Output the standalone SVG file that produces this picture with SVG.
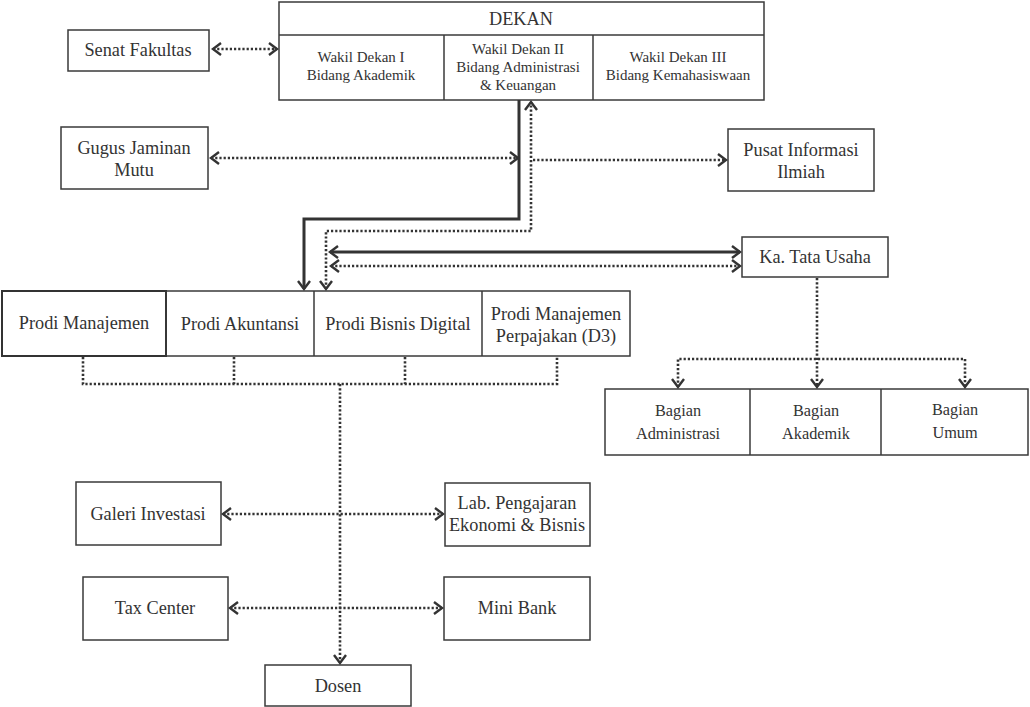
<svg xmlns="http://www.w3.org/2000/svg" width="1030" height="707" viewBox="0 0 1030 707">
<style>
.box{fill:#fff;stroke:#3a3a3a;stroke-width:1.5}
.t{font-family:"Liberation Serif","Times New Roman",serif;font-size:18.3px;fill:#333;text-anchor:middle}
.s{font-size:15px}
.b{font-size:16.3px}
.solid{fill:none;stroke:#333;stroke-width:3}
.dot{fill:none;stroke:#333;stroke-width:2.6;stroke-dasharray:2.2 2}
.ah{fill:none;stroke:#333;stroke-width:2.4;stroke-dasharray:none}
</style>
<defs>
<marker id="a" markerUnits="userSpaceOnUse" markerWidth="14" markerHeight="16" refX="10" refY="7" orient="auto-start-reverse" viewBox="0 0 14 16">
<path class="ah" d="M2,1 L10,7 L2,13"/>
</marker>
</defs>
<rect width="1030" height="707" fill="#fff"/>

<g id="dekan">
<rect class="box" x="279" y="2" width="485" height="98"/>
<line class="box" x1="279" y1="35" x2="764" y2="35"/>
<line class="box" x1="444" y1="35" x2="444" y2="100"/>
<line class="box" x1="593" y1="35" x2="593" y2="100"/>
<text class="t" x="521" y="25">DEKAN</text>
<text class="t s" x="361" y="62">Wakil Dekan I</text>
<text class="t s" x="361" y="80">Bidang Akademik</text>
<text class="t s" x="518" y="54">Wakil Dekan II</text>
<text class="t s" x="518" y="72">Bidang Administrasi</text>
<text class="t s" x="518" y="90">&amp; Keuangan</text>
<text class="t s" x="678" y="62">Wakil Dekan III</text>
<text class="t s" x="678" y="80">Bidang Kemahasiswaan</text>
</g>

<g id="senat"><rect class="box" x="68" y="30" width="141" height="41"/><text class="t" x="138" y="56">Senat Fakultas</text></g>
<g id="gugus"><rect class="box" x="61" y="127" width="147" height="62"/><text class="t" x="134" y="154">Gugus Jaminan</text><text class="t" x="134" y="176">Mutu</text></g>
<g id="pusat"><rect class="box" x="728" y="129" width="146" height="62"/><text class="t" x="801" y="156">Pusat Informasi</text><text class="t" x="801" y="178">Ilmiah</text></g>
<g id="katu"><rect class="box" x="742" y="237" width="146" height="40"/><text class="t" x="815" y="263">Ka. Tata Usaha</text></g>

<g id="prodi">
<rect class="box" x="2" y="291" width="628" height="65"/>
<rect x="2" y="291" width="164" height="65" fill="none" stroke="#333" stroke-width="2"/>
<line class="box" x1="166" y1="291" x2="166" y2="356"/>
<line class="box" x1="314" y1="291" x2="314" y2="356"/>
<line class="box" x1="482" y1="291" x2="482" y2="356"/>
<text class="t" x="84" y="329">Prodi Manajemen</text>
<text class="t" x="240" y="330">Prodi Akuntansi</text>
<text class="t" x="398" y="330">Prodi Bisnis Digital</text>
<text class="t" x="556" y="320">Prodi Manajemen</text>
<text class="t" x="556" y="342">Perpajakan (D3)</text>
</g>

<g id="bagian">
<rect class="box" x="605" y="389" width="423" height="66" stroke-width="2"/>
<line class="box" x1="750" y1="389" x2="750" y2="455"/>
<line class="box" x1="881" y1="389" x2="881" y2="455"/>
<text class="t b" x="678" y="416">Bagian</text>
<text class="t b" x="678" y="439">Administrasi</text>
<text class="t b" x="816" y="416">Bagian</text>
<text class="t b" x="816" y="439">Akademik</text>
<text class="t b" x="955" y="415">Bagian</text>
<text class="t b" x="955" y="438">Umum</text>
</g>

<g id="galeri"><rect class="box" x="76" y="482" width="145" height="63"/><text class="t" x="148" y="520">Galeri Investasi</text></g>
<g id="lab"><rect class="box" x="445" y="483" width="145" height="63"/><text class="t" x="517" y="509">Lab. Pengajaran</text><text class="t" x="517" y="531">Ekonomi &amp; Bisnis</text></g>
<g id="tax"><rect class="box" x="83" y="577" width="145" height="63"/><text class="t" x="155" y="614">Tax Center</text></g>
<g id="minibank"><rect class="box" x="444" y="577" width="146" height="63"/><text class="t" x="517" y="614">Mini Bank</text></g>
<g id="dosen"><rect class="box" x="265" y="665" width="146" height="41"/><text class="t" x="338" y="692">Dosen</text></g>

<g id="connectors">
<line class="dot" x1="213" y1="49" x2="277" y2="49" marker-start="url(#a)" marker-end="url(#a)"/>
<line class="dot" x1="211" y1="158" x2="518" y2="158" marker-start="url(#a)" marker-end="url(#a)"/>
<line class="dot" x1="533" y1="160" x2="726" y2="160" marker-end="url(#a)"/>
<path class="solid" d="M519,100 V219 H304 V289" marker-end="url(#a)"/>
<path class="dot" d="M326,289 V231 H531 V102" marker-start="url(#a)" marker-end="url(#a)"/>
<line class="solid" x1="330" y1="252" x2="740" y2="252" marker-start="url(#a)" marker-end="url(#a)"/>
<line class="dot" x1="331" y1="266" x2="740" y2="266" marker-start="url(#a)" marker-end="url(#a)"/>
<path class="dot" d="M817,278 V387" marker-end="url(#a)"/>
<path class="dot" d="M678,387 V359 H965 V387" marker-start="url(#a)" marker-end="url(#a)"/>
<path class="dot" d="M83,357 V384 H557 V357"/>
<path class="dot" d="M234,357 V384"/>
<path class="dot" d="M405,357 V384"/>
<path class="dot" d="M340,384 V663" marker-end="url(#a)"/>
<line class="dot" x1="223" y1="514" x2="443" y2="514" marker-start="url(#a)" marker-end="url(#a)"/>
<line class="dot" x1="230" y1="608" x2="442" y2="608" marker-start="url(#a)" marker-end="url(#a)"/>
</g>
</svg>
